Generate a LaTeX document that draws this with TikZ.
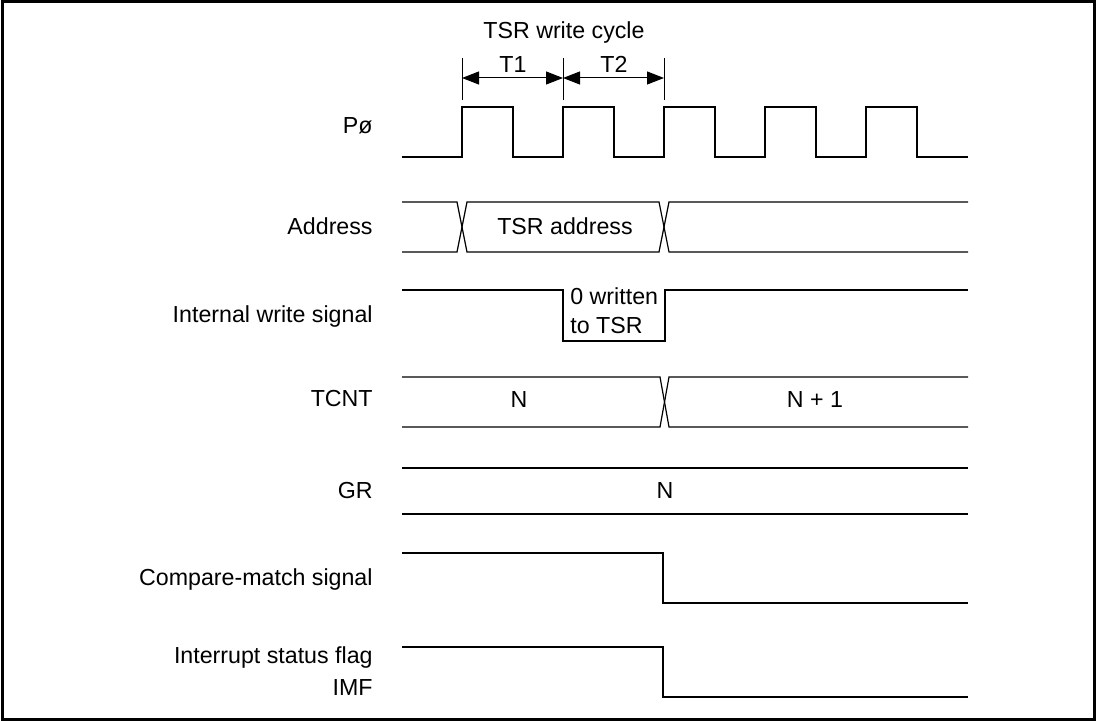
\documentclass[tikz,border=0pt]{standalone}
\usepackage{fontspec}
\setmainfont{Liberation Sans}
\usepackage{tikz}
\usetikzlibrary{positioning, arrows.meta}

\begin{document}
\begin{tikzpicture}[
    x=0.5pt, y=-0.5pt,
    wave/.style={line width=0.6pt, line join=miter},
    label/.style={anchor=base east, align=right, inner sep=0pt, font=\fontsize{11.6}{16}\selectfont},
    txt/.style={anchor=base, inner sep=0pt, font=\fontsize{11.6}{14.5}\selectfont},
    tick/.style={line width=0.5pt},
    span/.style={line width=0.5pt, {Triangle[length=8.5pt, width=6.5pt]}-{Triangle[length=8.5pt, width=6.5pt]}}
]
\useasboundingbox (0,0) rectangle (1096,721);
\draw[line width=1.5pt] (2,2) rectangle (1094,719);

% signal names
\node[label] (clk) at (373,134) {Pø};
\node[label] (addr) at (373,235) {Address};
\node[label] (wr) at (373,322) {Internal write signal};
\node[label] (tcnt) at (373,406) {TCNT};
\node[label] (gr) at (373,498) {GR};
\node[label] (cmp) at (373,585) {Compare-match signal};
\node[label] (imf) at (373,695) {Interrupt status flag\\IMF};

% write cycle T1 / T2
\node[txt] (cycle) at (564,39) {TSR write cycle};
\foreach \x/\n in {462/a, 563/b, 664/c} {
    \draw[tick] (\x,58) -- (\x,100);
    \coordinate (\n) at (\x,78);
}
\draw[span] (a) -- (b);
\draw[span] (b) -- (c);
\node[txt] (t1) at (513,73) {T1};
\node[txt] (t2) at (614,73) {T2};

% Po clock
\draw[wave] (402,157) foreach \x in {462,563,664,765,866} {
    -- (\x,157) -- (\x,107) -- (\x+51,107) -- (\x+51,157)
} -- (968,157);

% address bus
\draw[wave] (402,202) -- (457,202) -- (467,252) -- (659,252) -- (669,202) -- (968,202);
\draw[wave] (402,252) -- (457,252) -- (467,202) -- (659,202) -- (669,252) -- (968,252);
\node[txt] (tsra) at (565,235) {TSR address};

% internal write
\draw[wave] (402,290) -- (563,290) -- (563,341) -- (665,341) -- (665,290) -- (968,290);
\node[txt, anchor=base west, align=left] (wr0) at (570,334) {0 written\\to TSR};

% TCNT
\draw[wave] (402,377) -- (660,377) -- (669,427) -- (968,427);
\draw[wave] (402,427) -- (660,427) -- (669,377) -- (968,377);
\node[txt] (n0) at (519,407) {N};
\node[txt] (n1) at (815,407) {N + 1};

% GR
\draw[wave] (402,468) -- (968,468);
\draw[wave] (402,514) -- (968,514);
\node[txt] (grn) at (665,498) {N};

% compare-match and IMF
\draw[wave] (402,553) -- (663,553) -- (663,603) -- (968,603);
\draw[wave] (402,647) -- (663,647) -- (663,697) -- (968,697);
\end{tikzpicture}
\end{document}
